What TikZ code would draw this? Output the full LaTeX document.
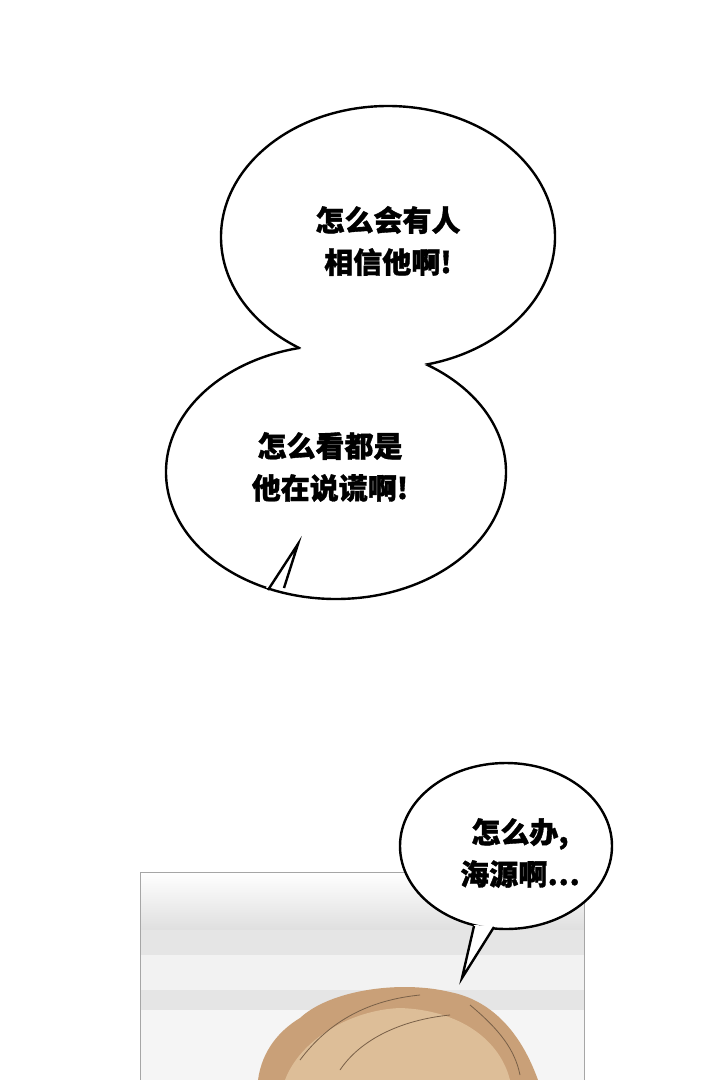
\documentclass[tikz,border=0pt]{standalone}
\usepackage{fontspec}
\newfontfamily\cjk[FakeBold=1.2]{Noto Sans CJK SC}
\definecolor{hairA}{HTML}{C9A078}
\definecolor{hairB}{HTML}{DDBE98}
\begin{document}
\begin{tikzpicture}[x=1pt,y=-1pt,
  bub/.style={draw=black,line width=2.4pt,fill=white},
  txt/.style={font=\cjk\bfseries\fontsize{29}{42}\selectfont,align=center,text=black}]
\useasboundingbox (0,0) rectangle (720,1080);
\fill[white] (0,0) rectangle (720,1080);
% bottom panel
\begin{scope}
\clip (140,872) rectangle (584,1080);
\fill[gray!8] (140,872) rectangle (584,1080);
\fill[top color=white,bottom color=gray!25] (140,872) rectangle (584,930);
\fill[gray!20] (140,930) rectangle (584,955);
\fill[gray!10] (140,955) rectangle (584,990);
\fill[gray!20] (140,990) rectangle (584,1010);
\fill[gray!8] (140,1010) rectangle (584,1080);
\fill[hairA] (258,1080) .. controls (262,1050) and (280,1030) .. (300,1018)
  .. controls (330,990) and (400,980) .. (450,992) .. controls (490,1000) and (520,1030) .. (538,1080) -- cycle;
\fill[hairB] (285,1080) .. controls (300,1040) and (350,1010) .. (400,1008)
  .. controls (460,1010) and (500,1040) .. (510,1080) -- cycle;
\draw[hairA!60!black,line width=0.8pt] (300,1060) .. controls (330,1020) and (370,1000) .. (420,995)
 (340,1070) .. controls (360,1040) and (400,1020) .. (450,1015)
 (470,1005) .. controls (500,1030) and (515,1050) .. (520,1075);
\end{scope}
\draw[gray!70,line width=1pt] (140,1080) -- (140,872) -- (584,872) -- (584,1080);
% big double bubble
\fill[white] (388,237) ellipse [x radius=167,y radius=131];
\fill[white] (336,472) ellipse [x radius=170,y radius=127];
\begin{scope}[even odd rule]
\clip (0,0) rectangle (720,1080) (336,472) ellipse [x radius=170,y radius=127];
\draw[line width=2.4pt] (388,237) ellipse [x radius=167,y radius=131];
\end{scope}
\begin{scope}[even odd rule]
\clip (0,0) rectangle (720,1080) (388,237) ellipse [x radius=167,y radius=131];
\draw[line width=2.4pt] (336,472) ellipse [x radius=170,y radius=127];
\end{scope}
% tail of big bubble
\fill[white] (266,588) -- (298,544) -- (286,586) -- cycle;
\draw[line width=2.4pt,line join=miter] (268,590) -- (298,544) -- (284,588);
% small bubble
\filldraw[bub] (506,846) ellipse [x radius=106,y radius=83];
\fill[white] (474,925) -- (462,978) -- (494,926) -- cycle;
\draw[line width=2.4pt,line join=miter] (474,926) -- (462,978) -- (494,927);
% texts
\node[txt] (t1) at (388,241) {怎么会有人\\相信他啊!};
\node[txt] (t2) at (330,467) {怎么看都是\\他在说谎啊!};
\node[txt] (t3) at (520,853) {怎么办,\\海源啊…};
\end{tikzpicture}
\end{document}
